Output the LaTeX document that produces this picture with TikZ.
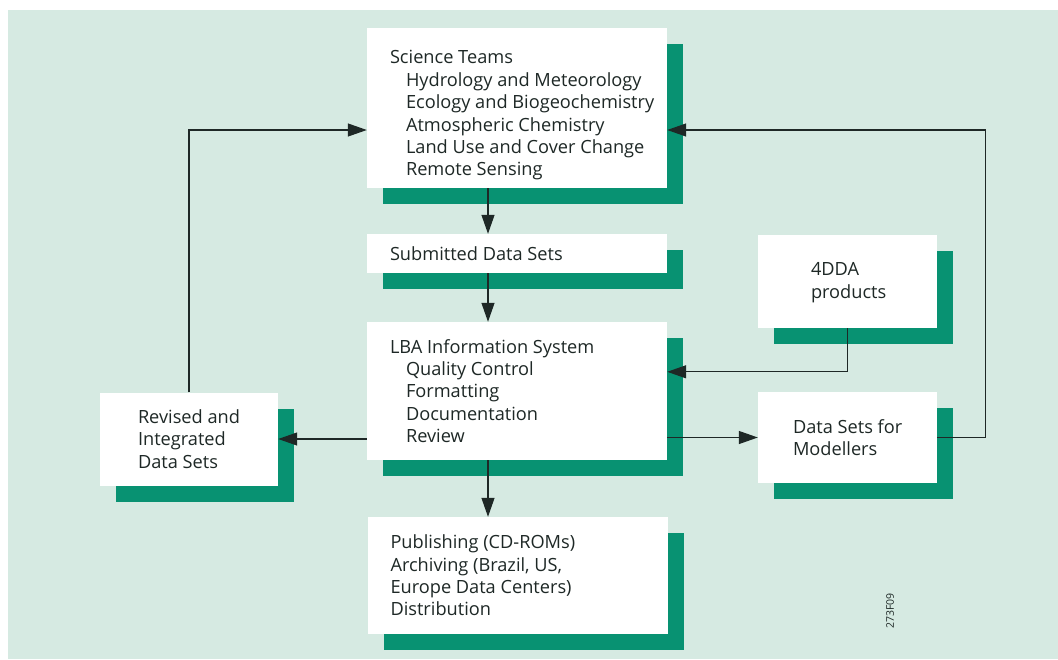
\documentclass[tikz,border=0pt]{standalone}
\usepackage{fontspec}
\setmainfont{Open Sans}
\usetikzlibrary{arrows.meta,shadows}
\definecolor{paper}{RGB}{214,234,226}
\definecolor{teal}{RGB}{8,146,114}
\definecolor{ink}{RGB}{30,40,38}
\tikzset{
  box/.style={fill=white,inner sep=0pt,anchor=center,
    drop shadow={shadow xshift=16pt,shadow yshift=-16pt,fill=teal,opacity=1}},
  boxtext/.style={inner sep=0pt,anchor=west,align=left,
    font=\fontsize{18.2}{22.4}\selectfont,text=ink},
  flow/.style={draw=ink,line width=1.2pt,-{Triangle[length=19pt,width=13pt]}}
}
\newcommand{\ind}{\hspace*{16pt}}
\begin{document}
\begin{tikzpicture}[x=1pt,y=-1pt]
\useasboundingbox (0,0) rectangle (1058,659);
\fill[paper] (8,10) rectangle (1058,659);

\node[box,minimum width=300pt,minimum height=160pt] (teams) at (517,108) {};
\node[box,minimum width=300pt,minimum height=39pt] (submitted) at (517,253.5) {};
\node[box,minimum width=300pt,minimum height=138pt] (lbainfo) at (517,391) {};
\node[box,minimum width=300pt,minimum height=117pt] (publish) at (517.5,575.5) {};
\node[box,minimum width=178pt,minimum height=93pt] (revised) at (189,439) {};
\node[box,minimum width=179pt,minimum height=93pt] (fourdda) at (847.5,281.5) {};
\node[box,minimum width=179pt,minimum height=91pt] (modellers) at (847.5,437.5) {};

\node[boxtext] (teamstext) at ([xshift=23pt,yshift=-7.5pt]teams.west)
  {Science Teams\\\ind Hydrology and Meteorology\\\ind Ecology and Biogeochemistry\\\ind Atmospheric Chemistry\\\ind Land Use and Cover Change\\\ind Remote Sensing};
\node[boxtext] (submittedtext) at ([xshift=23pt]submitted.west) {Submitted Data Sets};
\node[boxtext] (lbainfotext) at ([xshift=23pt]lbainfo.west)
  {LBA Information System\\\ind Quality Control\\\ind Formatting\\\ind Documentation\\\ind Review};
\node[boxtext] (publishtext) at ([xshift=23pt]publish.west)
  {Publishing (CD-ROMs)\\Archiving (Brazil, US,\\Europe Data Centers)\\Distribution};
\node[boxtext] (revisedtext) at ([xshift=38pt]revised.west) {Revised and\\Integrated\\Data Sets};
\node[boxtext] (fourddatext) at ([xshift=53pt,yshift=-1pt]fourdda.west) {4DDA\\products};
\node[boxtext] (modellerstext) at ([xshift=35pt]modellers.west) {Data Sets for\\Modellers};

\coordinate (spine) at (488,0);
\draw[flow] (teams.south -| spine) -- (submitted.north -| spine);
\draw[flow] (submitted.south -| spine) -- (lbainfo.north -| spine);
\draw[flow] (lbainfo.south -| spine) -- (publish.north -| spine);
\draw[flow] (lbainfo.west |- revised.east) -- (revised.east);
\draw[flow] (lbainfo.east |- modellers.west) -- (modellers.west);
\draw[flow] (fourdda.south) |- ([yshift=-50pt]lbainfo.north east);
\draw[flow] (revised.north) |- ([yshift=-22pt]teams.west);
\draw[flow] (modellers.east) -- ++(48,0) |- ([yshift=-22pt]teams.east);

\node[rotate=90,font=\fontsize{10.5}{12}\selectfont,text=ink] (figno) at (890,611) {273F09};
\end{tikzpicture}
\end{document}
